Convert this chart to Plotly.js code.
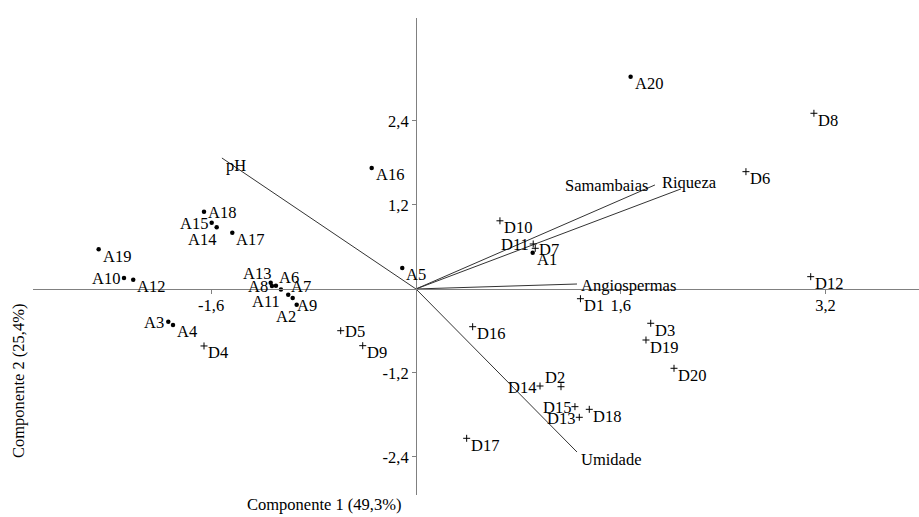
<!DOCTYPE html>
<html>
<head>
<meta charset="utf-8">
<script src="https://cdn.plot.ly/plotly-3.0.1.min.js"></script>
<style>html,body{margin:0;padding:0;background:#fff;}#chart{width:919px;height:517px;}</style>
</head>
<body>
<div id="chart"></div>
<script>
// ---- data ----
const aNames = ['A1','A2','A3','A4','A5','A6','A7','A8','A9','A10','A11','A12','A13','A14','A15','A16','A17','A18','A19','A20'];
const aX = [0.912,-0.932,-1.935,-1.898,-0.107,-1.094,-0.998,-1.125,-0.963,-2.281,-1.055,-2.209,-1.135,-1.557,-1.596,-0.346,-1.435,-1.656,-2.479,1.677];
const aY = [0.519,-0.224,-0.467,-0.514,0.300,0.047,-0.081,0.043,-0.129,0.157,-0.007,0.133,0.090,0.881,0.947,1.729,0.804,1.104,0.567,3.033];

const dNames = ['D1','D2','D3','D4','D5','D6','D7','D8','D9','D10','D11','D12','D13','D14','D15','D16','D17','D18','D19','D20'];
const dX = [1.285,1.133,1.834,-1.656,-0.588,2.578,0.932,3.109,-0.416,0.656,0.916,3.084,1.276,0.969,1.242,0.443,0.396,1.354,1.797,2.016];
const dY = [-0.139,-1.396,-0.490,-0.814,-0.596,1.676,0.581,2.510,-0.810,0.974,0.643,0.176,-1.833,-1.386,-1.681,-0.539,-2.133,-1.719,-0.729,-1.133];

const vecNames = ['pH','Samambaias','Riqueza','Angiospermas','Umidade'];
const vecX = [-1.516,1.867,2.070,1.258,1.258];
const vecY = [1.871,1.486,1.429,0.071,-2.329];

const xTickVals = [-1.6,1.6,3.2];
const xTickText = ['-1,6','1,6','3,2'];
const yTickVals = [-2.4,-1.2,1.2,2.4];
const yTickText = ['-2,4','-1,2','1,2','2,4'];

const xTitle = 'Componente 1 (49,3%)';
const yTitle = 'Componente 2 (25,4%)';

// ---- styling ----
const FONT = 'Liberation Serif, Times New Roman, serif';
const FS = 16.5;
const xRange = [-2.992, 3.930];
const yRange = [-2.943, 3.871];

// label placement (style only)
const place = {
  r:   {xanchor:'left',  xshift:2,  yshift:-7},
  rm:  {xanchor:'left',  xshift:2,  yshift:-1},
  ra:  {xanchor:'left',  xshift:1,  yshift:8},
  l:   {xanchor:'right', xshift:-2, yshift:-1},
  la:  {xanchor:'right', xshift:2,  yshift:9},
  lb:  {xanchor:'right', xshift:1,  yshift:-12},
  a:   {xanchor:'center',xshift:-6, yshift:9},
  over:{xanchor:'left',  xshift:-21,yshift:6},
  sl:  {xanchor:'right', xshift:-5, yshift:-1}
};
const labelPlace = {
  A2:'lb', A3:'l', A6:'ra', A7:'ra', A8:'l', A10:'l', A11:'lb', A13:'la', A14:'lb', A15:'l', A18:'rm',
  D2:'a', D5:'rm', D7:'rm', D11:'l', D13:'l', D14:'l', D15:'l',
  Samambaias:'sl', Riqueza:'over', Angiospermas:'rm'
};

const traces = [];
// vectors
vecNames.forEach((n,i) => {
  traces.push({x:[0,vecX[i]], y:[0,vecY[i]], mode:'lines', type:'scatter',
    line:{color:'#333333', width:1}, hoverinfo:'skip'});
});
// A points (dots)
traces.push({x:aX, y:aY, mode:'markers', type:'scatter',
  marker:{symbol:'circle', size:4.5, color:'#000'}, hoverinfo:'skip'});
// D points (plus)
traces.push({x:dX, y:dY, mode:'markers', type:'scatter',
  marker:{symbol:'cross-thin', size:5, color:'#000', line:{color:'#000', width:1}}, hoverinfo:'skip'});

const annotations = [];
function addLabels(names, xs, ys) {
  names.forEach((n,i) => {
    const p = place[labelPlace[n] || 'r'];
    annotations.push({x:xs[i], y:ys[i], xref:'x', yref:'y', text:n, showarrow:false,
      xanchor:p.xanchor, yanchor:'middle', xshift:p.xshift, yshift:p.yshift,
      font:{family:FONT, size:FS, color:'#000'}});
  });
}
addLabels(aNames, aX, aY);
addLabels(dNames, dX, dY);
addLabels(vecNames, vecX, vecY);

// axis titles
annotations.push({xref:'paper', yref:'paper', x:(324-33)/886, y:0, xanchor:'center', yanchor:'bottom', yshift:-21,
  text:xTitle, showarrow:false, font:{family:FONT, size:FS, color:'#000'}});
annotations.push({xref:'paper', yref:'paper', x:(18-33)/886, y:(495-381)/477, xanchor:'center', yanchor:'middle',
  textangle:-90, text:yTitle, showarrow:false, font:{family:FONT, size:FS, color:'#000'}});

const axisCommon = {
  showgrid:false, zeroline:false, showline:true, linecolor:'#808080', linewidth:1.5,
  ticks:'outside', ticklen:4, tickwidth:1, tickcolor:'#808080',
  tickfont:{family:FONT, size:FS, color:'#000'}, anchor:'free'
};

const layout = {
  width:919, height:517,
  margin:{l:33, r:0, t:18, b:22},
  paper_bgcolor:'#fff', plot_bgcolor:'#fff',
  showlegend:false, hovermode:false,
  xaxis:Object.assign({}, axisCommon, {range:xRange, tickvals:xTickVals, ticktext:xTickText,
    ticklabelstandoff:-3,
    position:(0 - yRange[0])/(yRange[1]-yRange[0])}),
  yaxis:Object.assign({}, axisCommon, {range:yRange, tickvals:yTickVals, ticktext:yTickText,
    position:(0 - xRange[0])/(xRange[1]-xRange[0])}),
  annotations:annotations
};

Plotly.newPlot('chart', traces, layout, {staticPlot:true, displayModeBar:false});
</script>
</body>
</html>
